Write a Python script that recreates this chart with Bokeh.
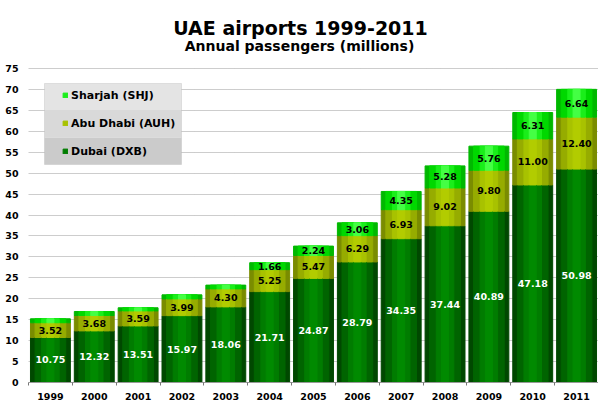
import numpy as np
from bokeh.plotting import figure
from bokeh.models import (ColumnDataSource, Range1d, FixedTicker, Label, Legend,
                          LegendItem, BoxAnnotation)
from bokeh.core.properties import value
from bokeh.embed import file_html
from bokeh.resources import INLINE

years = ["1999", "2000", "2001", "2002", "2003", "2004", "2005",
         "2006", "2007", "2008", "2009", "2010", "2011"]
dubai = [10.75, 12.32, 13.51, 15.97, 18.06, 21.71, 24.87,
         28.79, 34.35, 37.44, 40.89, 47.18, 50.98]
abu_dhabi = [3.52, 3.68, 3.59, 3.99, 4.30, 5.25, 5.47,
             6.29, 6.93, 9.02, 9.80, 11.00, 12.40]
sharjah = [0.95, 0.96, 0.75, 0.98, 0.90, 1.66, 2.24,
           3.06, 4.35, 5.28, 5.76, 6.31, 6.64]
series_names = ["Dubai (DXB)", "Abu Dhabi (AUH)", "Sharjah (SHJ)"]
y_ticks = list(range(0, 80, 5))

FONT = "DejaVu Sans"

xc = np.arange(len(years)) + 0.5
d = np.array(dubai)
a = np.array(abu_dhabi)
s = np.array(sharjah)

src = ColumnDataSource(dict(x=xc, dubai=d, abu=a, shj=s))

# frame: left 28 .. right 598, top of canvas .. bottom 382; value 75 sits 68px from top
y_top = 75 * 382 / (382 - 68)
p = figure(width=598, height=408, output_backend="svg", toolbar_location=None,
           x_range=Range1d(0, len(years)), y_range=Range1d(0, y_top),
           min_border_left=28, min_border_right=0, min_border_top=0,
           min_border_bottom=26)
p.outline_line_color = None
p.background_fill_color = "white"

# grid
p.xgrid.grid_line_color = None
p.ygrid.grid_line_color = "#9a9a9a"
p.ygrid.grid_line_dash = "1 1"
p.ygrid.ticker = FixedTicker(ticks=y_ticks)

# axes
p.yaxis.ticker = FixedTicker(ticks=y_ticks)
p.yaxis.axis_line_color = None
p.yaxis.major_tick_line_color = None
p.yaxis.minor_tick_line_color = None
p.yaxis.major_label_standoff = 4
p.yaxis.major_label_text_font = FONT
p.yaxis.major_label_text_font_style = "bold"
p.yaxis.major_label_text_font_size = "9.5px"
p.yaxis.major_label_text_color = "black"

p.xaxis.ticker = FixedTicker(ticks=list(xc), minor_ticks=list(range(len(years) + 1)))
p.xaxis.major_label_overrides = {float(x): y for x, y in zip(xc, years)}
p.xaxis.axis_line_color = "#999999"
p.xaxis.major_tick_line_color = None
p.xaxis.minor_tick_line_color = "#777777"
p.xaxis.minor_tick_in = 0
p.xaxis.minor_tick_out = 3
p.xaxis.major_label_standoff = 4
p.xaxis.major_label_text_font = FONT
p.xaxis.major_label_text_font_style = "bold"
p.xaxis.major_label_text_font_size = "9.5px"
p.xaxis.major_label_text_color = "black"

stack = ["dubai", "abu", "shj"]
layers = [
    (0.91, ["#004800", "#7a8c00", "#00b800"]),
    (0.70, ["#006400", "#96ac00", "#00d800"]),
    (0.40, ["#007c00", "#a8c200", "#1aee1a"]),
    (0.16, ["#008a00", "#b2cc00", "#44ff44"]),
]
layer_renderers = []
for w, cols in layers:
    layer_renderers.append(p.vbar_stack(stack, x="x", width=w, color=cols, source=src))
leg_r = layer_renderers[2]

# value labels
lab_font = value(FONT)
p.text(x=xc, y=d / 2, text=["%.2f" % v for v in dubai], text_color="white",
       text_font=lab_font, text_font_style="bold", text_font_size="9.5px",
       text_align="center", text_baseline="middle")
p.text(x=xc, y=d + a / 2, text=["%.2f" % v for v in abu_dhabi], text_color="black",
       text_font=lab_font, text_font_style="bold", text_font_size="9.5px",
       text_align="center", text_baseline="middle")
mask = s >= 1.5
p.text(x=xc[mask], y=(d + a + s / 2)[mask], text=["%.2f" % v for v in s[mask]],
       text_color="black", text_font=lab_font, text_font_style="bold",
       text_font_size="9.5px", text_align="center", text_baseline="middle")

# legend background (light-to-dark grey)
bands = [(299, 272, "#e4e4e4"), (272, 245, "#d9d9d9"), (245, 218, "#cbcbcb")]
for top, bottom, col in bands:
    p.add_layout(BoxAnnotation(left=16, right=153, top=top, bottom=bottom,
                               left_units="screen", right_units="screen",
                               top_units="screen", bottom_units="screen",
                               fill_color=col, fill_alpha=1.0, line_color=None,
                               level="annotation"))
p.add_layout(BoxAnnotation(left=16, right=153, top=299, bottom=218,
                           left_units="screen", right_units="screen",
                           top_units="screen", bottom_units="screen",
                           fill_alpha=0, line_color="#b0b0b0", line_width=1,
                           level="annotation"))

legend = Legend(items=[LegendItem(label=series_names[2], renderers=[leg_r[2]]),
                       LegendItem(label=series_names[1], renderers=[leg_r[1]]),
                       LegendItem(label=series_names[0], renderers=[leg_r[0]])],
                location=(34, 221), padding=0, spacing=8, label_height=20,
                glyph_width=6, glyph_height=6, label_standoff=3,
                background_fill_alpha=0, border_line_color=None,
                label_text_font=FONT, label_text_font_style="bold",
                label_text_font_size="11px", label_text_color="black")
p.add_layout(legend, "center")

# titles
p.add_layout(Label(x=272, y=354.5, x_units="screen", y_units="screen",
                   text="UAE airports 1999-2011", text_font=FONT,
                   text_font_style="bold", text_font_size="19px",
                   text_align="center", text_baseline="alphabetic", text_color="black"))
p.add_layout(Label(x=271, y=336.3, x_units="screen", y_units="screen",
                   text="Annual passengers (millions)", text_font=FONT,
                   text_font_style="bold", text_font_size="14px",
                   text_align="center", text_baseline="alphabetic", text_color="black"))

open("out.html", "w").write(file_html(p, INLINE))
